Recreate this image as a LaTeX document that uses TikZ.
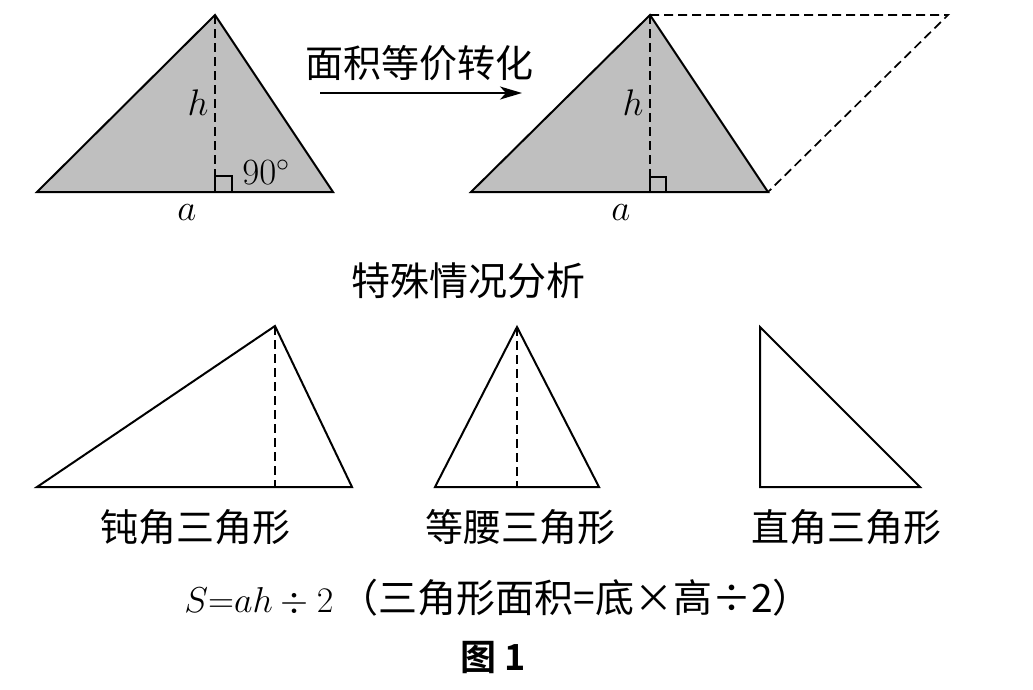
\RequirePackage{fix-cm}
\documentclass[tikz,border=0pt]{standalone}
\usepackage{fontspec}
\newfontfamily\cjk{Noto Sans CJK SC}
\newfontfamily\cjkbf{Noto Sans CJK SC Bold}
\usetikzlibrary{arrows.meta, positioning}

\begin{document}
\begin{tikzpicture}[x=1pt, y=-1pt, line width=2pt, line join=miter,
    shaded/.style={draw, fill=gray!50},
    plain/.style={draw},
    alt/.style={dash pattern=on 9pt off 5pt, line width=1.7pt},
    cn/.style={font=\cjk\fontsize{38}{42}\selectfont, inner sep=0pt},
    mth/.style={font=\fontsize{37}{41}\selectfont, inner sep=0pt}]
    \useasboundingbox (0,0) rectangle (1033,689);

    % top left
    \coordinate (l1) at (37,192);
    \coordinate (l2) at (333,192);
    \coordinate (l3) at (215,15);
    \coordinate (lf) at (215,192);
    \draw [shaded] (l1) -- (l2) -- (l3) -- cycle;
    \draw [alt] (l3) -- (lf);
    \draw [line width=1.6pt] (lf) rectangle ++(17,-16);
    \node (h1) [mth] at (198,103) {$h$};
    \node (a1) [mth] at (187,213) {$a$};
    \node (deg) [mth] at (266,172) {$90^\circ$};

    % arrow
    \coordinate (as) at (320,93);
    \coordinate (ae) at (522,93);
    \draw [-{Stealth[length=22pt, width=13pt, inset=6pt]}] (as) -- (ae);
    \node (tr) [cn] at (419,63) {面积等价转化};

    % top right
    \coordinate (r1) at (471,192);
    \coordinate (r2) at (768,192);
    \coordinate (r3) at (650,15);
    \coordinate (rf) at (650,192);
    \coordinate (r4) at (948,15);
    \draw [shaded] (r1) -- (r2) -- (r3) -- cycle;
    \draw [alt] (r3) -- (r4) -- (r2);
    \draw [alt] (r3) -- (rf);
    \draw [line width=1.6pt] (rf) rectangle ++(16,-15);
    \node (h2) [mth] at (633,103) {$h$};
    \node (a2) [mth] at (621,213) {$a$};

    \node (sp) [cn, font=\cjk\fontsize{39}{43}\selectfont] at (468,281) {特殊情况分析};

    % bottom row
    \coordinate (o1) at (37,487);
    \coordinate (o2) at (352,487);
    \coordinate (o3) at (275,326);
    \coordinate (of) at (275,487);
    \draw [plain] (o1) -- (o2) -- (o3) -- cycle;
    \draw [alt] (o3) -- (of);
    \node (ot) [cn] at (195,527) {钝角三角形};

    \coordinate (i1) at (435,487);
    \coordinate (i2) at (599,487);
    \coordinate (i3) at (517,327);
    \coordinate (if) at (517,487);
    \draw [plain] (i1) -- (i2) -- (i3) -- cycle;
    \draw [alt] (i3) -- (if);
    \node (it) [cn] at (520,527) {等腰三角形};

    \coordinate (t1) at (760,487);
    \coordinate (t2) at (920,487);
    \coordinate (t3) at (760,327);
    \draw [plain] (t1) -- (t2) -- (t3) -- cycle;
    \node (tt) [cn] at (846,527) {直角三角形};

    \node (fm) [cn] at (498,598) {\fontsize{36}{40}\selectfont$S{=}ah\div2$\,\fontsize{39}{43}\selectfont（三角形面积=底×高÷2）};
    \node (cap) [font=\cjkbf\fontsize{36}{40}\selectfont, inner sep=0pt] at (493,658) {图 1};
\end{tikzpicture}
\end{document}
